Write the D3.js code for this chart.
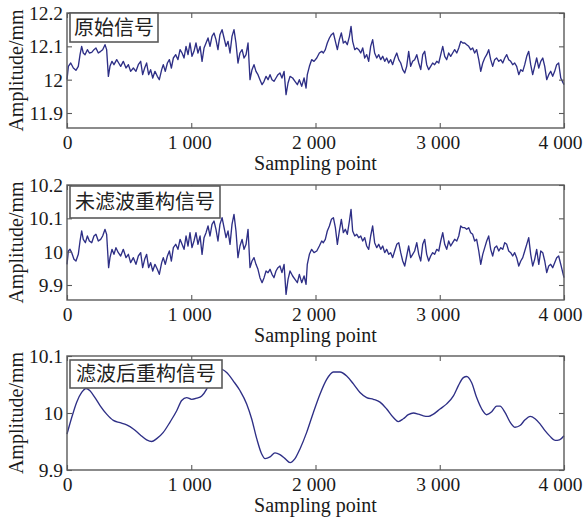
<!DOCTYPE html>
<html>
<head>
<meta charset="utf-8">
<script src="https://cdn.jsdelivr.net/npm/d3@7"></script>
<style>
  html, body { margin: 0; padding: 0; background: #fff; }
  svg { display: block; }
  .tick text { font-family: "Liberation Serif", "Times New Roman", serif; font-size: 19.5px; fill: #1a1a1a; }
  .axis-title { font-family: "Liberation Serif", "Times New Roman", serif; font-size: 20px; fill: #1a1a1a; }
  .tag { font-family: "Noto Sans CJK SC", sans-serif; font-size: 20px; fill: #222; }
</style>
</head>
<body>
<svg id="chart" width="585" height="520"></svg>
<script>
// Original measured signal: [sampling point, amplitude mm]
const rawSignal = [
  [0,12.000],[11,12.040],[30,12.050],[51,12.035],[72,12.028],[91,12.040],[105,12.075],[118,12.100],[131,12.080],[145,12.075],
  [164,12.090],[180,12.080],[199,12.082],[217,12.090],[233,12.095],[252,12.080],[271,12.085],[287,12.090],[306,12.105],[319,12.090],
  [333,12.010],[346,12.040],[362,12.055],[378,12.045],[400,12.060],[416,12.050],[432,12.040],[453,12.055],[475,12.035],[494,12.045],
  [512,12.025],[534,12.035],[555,12.025],[574,12.045],[593,12.055],[609,12.015],[625,12.035],[641,12.050],[657,12.015],[673,12.030],
  [690,12.005],[708,12.025],[727,12.010],[743,12.000],[762,12.030],[775,12.045],[791,12.025],[808,12.050],[824,12.060],[840,12.035],
  [856,12.065],[875,12.075],[893,12.060],[910,12.090],[926,12.080],[942,12.065],[958,12.100],[974,12.075],[990,12.110],[1006,12.070],
  [1022,12.085],[1038,12.110],[1054,12.080],[1071,12.100],[1087,12.055],[1103,12.095],[1119,12.110],[1135,12.125],[1151,12.100],[1167,12.130],
  [1183,12.140],[1199,12.120],[1215,12.090],[1231,12.135],[1248,12.150],[1264,12.125],[1280,12.100],[1296,12.115],[1312,12.080],[1328,12.130],
  [1344,12.150],[1360,12.110],[1376,12.050],[1392,12.080],[1409,12.090],[1425,12.065],[1441,12.075],[1457,12.110],[1473,12.000],[1489,12.030],
  [1505,12.045],[1521,12.025],[1537,12.015],[1553,12.000],[1570,11.985],[1586,11.995],[1602,12.010],[1618,12.000],[1634,12.015],[1650,12.000],
  [1666,11.995],[1682,12.005],[1698,12.015],[1714,12.020],[1730,12.005],[1747,12.025],[1763,11.955],[1779,11.990],
  [1795,12.010],[1816,12.005],[1835,11.995],[1854,11.985],[1870,12.000],[1889,11.980],[1908,12.005],[1924,11.975],[1934,12.015],[1951,12.040],
  [1969,12.060],[1988,12.055],[2010,12.065],[2031,12.080],[2050,12.085],[2063,12.080],[2079,12.090],[2095,12.110],[2112,12.125],[2128,12.135],
  [2144,12.140],[2160,12.115],[2176,12.090],[2192,12.120],[2208,12.140],[2224,12.110],[2240,12.115],[2256,12.105],[2273,12.130],[2286,12.160],
  [2299,12.115],[2316,12.090],[2332,12.095],[2348,12.090],[2364,12.080],[2380,12.095],[2396,12.065],[2412,12.075],[2428,12.055],[2444,12.100],
  [2460,12.120],[2476,12.080],[2493,12.065],[2509,12.075],[2525,12.060],[2541,12.070],[2557,12.055],[2573,12.065],[2589,12.050],[2605,12.060],
  [2621,12.045],[2637,12.065],[2654,12.080],[2670,12.060],[2686,12.050],[2702,12.030],[2718,12.020],[2734,12.040],[2750,12.085],[2766,12.040],
  [2782,12.055],[2798,12.060],[2815,12.075],[2831,12.050],[2847,12.030],[2863,12.075],[2879,12.085],[2895,12.045],[2911,12.030],[2927,12.040],
  [2943,12.050],[2959,12.045],[2976,12.055],[2992,12.050],[3008,12.075],[3024,12.100],[3040,12.070],[3056,12.060],[3072,12.080],[3088,12.070],
  [3104,12.080],[3120,12.090],[3137,12.080],[3153,12.095],[3169,12.115],[3185,12.110],[3201,12.110],[3217,12.105],[3233,12.100],[3249,12.090],
  [3265,12.095],[3281,12.080],[3297,12.090],[3314,12.060],[3330,12.025],[3346,12.050],[3362,12.065],[3378,12.075],[3394,12.090],[3410,12.060],
  [3426,12.040],[3442,12.060],[3458,12.065],[3475,12.055],[3491,12.060],[3507,12.050],[3523,12.065],[3539,12.075],[3555,12.060],[3571,12.055],
  [3587,12.045],[3603,12.050],[3619,12.040],[3636,12.015],[3652,12.030],[3668,12.025],[3684,12.045],[3700,12.070],[3716,12.085],[3732,12.045],
  [3748,12.015],[3764,12.040],[3780,12.065],[3797,12.035],[3813,12.055],[3829,12.065],[3845,12.040],[3861,12.000],[3877,12.015],[3893,12.025],
  [3909,12.010],[3925,12.025],[3941,12.045],[3957,12.050],[3974,12.005],[4000,11.985]
];

// Reconstruction without filtering
const unfilteredSignal = [
  [0,9.962],[11,10.002],[24,10.007],[38,9.997],[56,9.977],[72,9.972],[91,9.992],[105,10.032],[118,10.062],[131,10.037],
  [148,10.027],[164,10.047],[180,10.032],[199,10.027],[217,10.047],[233,10.052],[252,10.032],[271,10.037],[287,10.047],[306,10.067],
  [319,10.052],[335,9.952],[346,9.982],[362,10.007],[378,9.992],[394,10.012],[413,9.997],[432,9.987],[453,10.007],[475,9.982],
  [494,9.992],[512,9.967],[534,9.982],[555,9.962],[574,9.987],[593,9.997],[609,9.952],[625,9.977],[641,9.992],[657,9.952],
  [673,9.967],[690,9.942],[708,9.962],[727,9.947],[743,9.932],[762,9.967],[775,9.982],[791,9.962],[808,9.987],[824,10.002],
  [840,9.972],[856,10.012],[875,10.022],[893,10.007],[910,10.037],[926,10.022],[942,10.007],[958,10.047],[974,10.017],[990,10.057],
  [1006,10.012],[1022,10.032],[1038,10.057],[1054,10.022],[1071,10.047],[1087,9.992],[1103,10.042],[1119,10.057],[1135,10.077],[1151,10.047],
  [1167,10.082],[1183,10.092],[1199,10.067],[1215,10.032],[1231,10.082],[1248,10.102],[1264,10.072],[1280,10.042],[1296,10.062],[1312,10.022],
  [1328,10.082],[1344,10.112],[1360,10.062],[1376,9.982],[1392,10.017],[1409,10.037],[1425,10.007],[1441,10.022],[1457,10.067],[1473,9.952],
  [1489,9.972],[1505,9.982],[1521,9.962],[1537,9.947],[1553,9.922],[1570,9.907],[1586,9.922],[1602,9.942],[1618,9.937],[1634,9.947],
  [1650,9.932],[1666,9.922],[1682,9.942],[1698,9.952],[1714,9.957],[1730,9.937],[1747,9.962],[1763,9.872],[1779,9.917],
  [1795,9.942],[1816,9.927],[1835,9.917],[1854,9.907],[1870,9.932],[1889,9.907],[1908,9.927],[1924,9.902],[1934,9.962],[1951,9.992],
  [1969,10.007],[1988,9.997],[2010,10.002],[2031,10.017],[2050,10.032],[2063,10.027],[2079,10.037],[2095,10.062],[2112,10.077],[2128,10.097],
  [2144,10.102],[2160,10.072],[2176,10.022],[2192,10.062],[2208,10.097],[2224,10.057],[2240,10.067],[2256,10.052],[2273,10.092],[2286,10.127],
  [2299,10.062],[2316,10.047],[2332,10.052],[2348,10.042],[2364,10.047],[2380,10.032],[2396,10.042],[2412,10.017],[2428,10.007],[2444,10.047],
  [2460,10.077],[2476,10.027],[2493,10.012],[2509,10.022],[2525,10.007],[2541,10.017],[2557,9.997],[2573,10.007],[2589,9.992],[2605,9.997],
  [2621,9.982],[2637,10.002],[2654,10.022],[2670,10.027],[2686,9.997],[2702,9.972],[2718,9.957],[2734,9.987],[2750,10.017],[2766,9.982],
  [2782,9.992],[2798,10.002],[2815,10.027],[2831,9.992],[2847,9.972],[2863,10.022],[2879,10.037],[2895,9.992],[2911,9.972],[2927,9.987],
  [2943,9.997],[2959,9.992],[2976,10.007],[2992,10.002],[3008,10.032],[3024,10.057],[3040,10.022],[3056,10.007],[3072,10.032],[3088,10.017],
  [3104,10.027],[3120,10.037],[3137,10.032],[3153,10.047],[3169,10.077],[3185,10.072],[3201,10.072],[3217,10.067],[3233,10.072],[3249,10.057],
  [3265,10.052],[3281,10.032],[3297,10.037],[3314,10.002],[3330,9.962],[3346,9.992],[3362,10.012],[3378,10.032],[3394,10.047],[3410,10.007],
  [3426,9.987],[3442,10.012],[3458,10.017],[3475,10.002],[3491,10.012],[3507,10.007],[3523,10.027],[3539,10.022],[3555,10.002],[3571,9.997],
  [3587,9.987],[3603,9.997],[3619,9.982],[3636,9.957],[3652,9.972],[3668,9.982],[3684,10.002],[3700,10.022],[3716,10.042],[3732,9.992],
  [3748,9.957],[3764,9.977],[3780,10.007],[3797,9.962],[3813,10.002],[3829,9.997],[3845,9.972],[3861,9.937],[3877,9.957],[3893,9.962],
  [3909,9.952],[3925,9.967],[3941,9.982],[3957,9.987],[3974,9.962],[4000,9.922]
];

// Reconstruction after filtering
const filteredSignal = [
  [0,9.963],[38,9.992],[78,10.019],[118,10.036],[153,10.043],[185,10.039],[225,10.027],[266,10.013],[319,9.998],[373,9.987],
  [427,9.983],[480,9.979],[534,9.972],[588,9.962],[641,9.953],[681,9.950],[722,9.955],[775,9.966],[829,9.984],[883,10.004],
  [923,10.022],[963,10.027],[1003,10.024],[1044,10.026],[1084,10.030],[1124,10.042],[1164,10.062],[1205,10.074],[1240,10.077],[1285,10.071],
  [1339,10.056],[1393,10.039],[1446,10.016],[1486,9.990],[1527,9.955],[1567,9.928],[1594,9.920],[1634,9.923],[1674,9.930],[1714,9.927],
  [1755,9.920],[1795,9.913],[1835,9.920],[1875,9.937],[1929,9.966],[1983,10.001],[2036,10.033],[2090,10.059],[2144,10.072],[2197,10.072],
  [2251,10.065],[2305,10.051],[2358,10.036],[2412,10.027],[2466,10.024],[2519,10.019],[2573,10.007],[2627,9.992],[2667,9.985],[2707,9.990],
  [2747,9.997],[2788,10.000],[2828,9.998],[2868,9.995],[2908,9.994],[2949,9.998],[3002,10.007],[3056,10.016],[3110,10.030],[3150,10.048],
  [3190,10.062],[3217,10.064],[3257,10.053],[3297,10.027],[3338,10.007],[3378,9.997],[3418,10.002],[3458,10.012],[3485,10.012],[3525,10.001],
  [3566,9.984],[3606,9.975],[3646,9.978],[3686,9.988],[3727,9.994],[3767,9.990],[3807,9.981],[3847,9.969],[3888,9.959],[3928,9.952],
  [3963,9.953],[4000,9.960]
];

const xTicks = [0, 1000, 2000, 3000, 4000];
const yTicks1 = [11.9, 12, 12.1, 12.2];
const yTicks2 = [9.9, 10, 10.1, 10.2];
const yTicks3 = [9.9, 10, 10.1];
const panelTitles = ["原始信号", "未滤波重构信号", "滤波后重构信号"];
const xTitle = "Sampling point";
const yTitle = "Amplitude/mm";

const panels = [
  { data: rawSignal, domain: [11.855, 12.2], ticks: yTicks1, top: 13, height: 115, curve: d3.curveLinear, tag: { x: 70, y: 13, w: 88, h: 29 } },
  { data: unfilteredSignal, domain: [9.855, 10.2], ticks: yTicks2, top: 185, height: 115, curve: d3.curveLinear, tag: { x: 70, y: 186, w: 150, h: 32 } },
  { data: filteredSignal, domain: [9.9, 10.1], ticks: yTicks3, top: 356, height: 114, curve: d3.curveMonotoneX, tag: { x: 70, y: 360, w: 152, h: 28 } }
];

const left = 67, right = 564;
const svg = d3.select("#chart");
const locale = d3.formatLocale({ decimal: ".", thousands: " ", grouping: [3], currency: ["", ""] });
const fmtX = locale.format(",");
const fmtY = d => String(+d.toFixed(1));
const lineColor = "#2e2f86";
const frameColor = "#5a5a5a";

const x = d3.scaleLinear().domain([0, 4000]).range([left, right]);

panels.forEach((p, i) => {
  const bottom = p.top + p.height;
  const y = d3.scaleLinear().domain(p.domain).range([bottom, p.top]);
  const g = svg.append("g");

  // data line
  const line = d3.line().x(d => x(d[0])).y(d => y(d[1])).curve(p.curve);
  g.append("path")
    .datum(p.data)
    .attr("fill", "none")
    .attr("stroke", lineColor)
    .attr("stroke-width", 1.35)
    .attr("stroke-linejoin", "round")
    .attr("d", line);

  // bottom axis with labels, ticks pointing inward
  const ax = g.append("g").attr("transform", `translate(0,${bottom})`)
    .call(d3.axisBottom(x).tickValues(xTicks).tickFormat(fmtX).tickSizeInner(-5).tickSizeOuter(0));
  ax.selectAll("text").attr("y", 21).attr("dy", null)
    .attr("dx", d => d === 0 ? 0 : (d === 4000 ? -4 : -2));

  // top axis ticks only
  g.append("g").attr("transform", `translate(0,${p.top})`)
    .call(d3.axisTop(x).tickValues(xTicks).tickFormat("").tickSizeInner(-5).tickSizeOuter(0));

  // left axis with labels
  const ay = g.append("g").attr("transform", `translate(${left},0)`)
    .call(d3.axisLeft(y).tickValues(p.ticks).tickFormat(fmtY).tickSizeInner(-5).tickSizeOuter(0));
  ay.selectAll("text").attr("x", -4).attr("dy", "0.34em");

  // right axis ticks only
  g.append("g").attr("transform", `translate(${right},0)`)
    .call(d3.axisRight(y).tickValues(p.ticks).tickFormat("").tickSizeInner(-5).tickSizeOuter(0));

  g.selectAll(".domain").remove();
  g.selectAll(".tick line").attr("stroke", frameColor).attr("stroke-width", 1.1);

  // frame
  g.append("rect")
    .attr("x", left).attr("y", p.top)
    .attr("width", right - left).attr("height", p.height)
    .attr("fill", "none").attr("stroke", frameColor).attr("stroke-width", 1.4);

  // axis titles
  g.append("text").attr("class", "axis-title")
    .attr("x", (left + right) / 2).attr("y", bottom + 42)
    .attr("text-anchor", "middle").text(xTitle);
  g.append("text").attr("class", "axis-title")
    .attr("transform", `translate(23,${p.top + p.height / 2}) rotate(-90)`)
    .attr("text-anchor", "middle").text(yTitle);

  // panel tag box
  g.append("rect")
    .attr("x", p.tag.x).attr("y", p.tag.y)
    .attr("width", p.tag.w).attr("height", p.tag.h)
    .attr("fill", "#fff").attr("stroke", frameColor).attr("stroke-width", 1.6);
  g.append("text").attr("class", "tag")
    .attr("x", p.tag.x + p.tag.w / 2).attr("y", p.tag.y + p.tag.h / 2)
    .attr("dy", "0.36em").attr("text-anchor", "middle")
    .text(panelTitles[i]);
});
</script>
</body>
</html>
